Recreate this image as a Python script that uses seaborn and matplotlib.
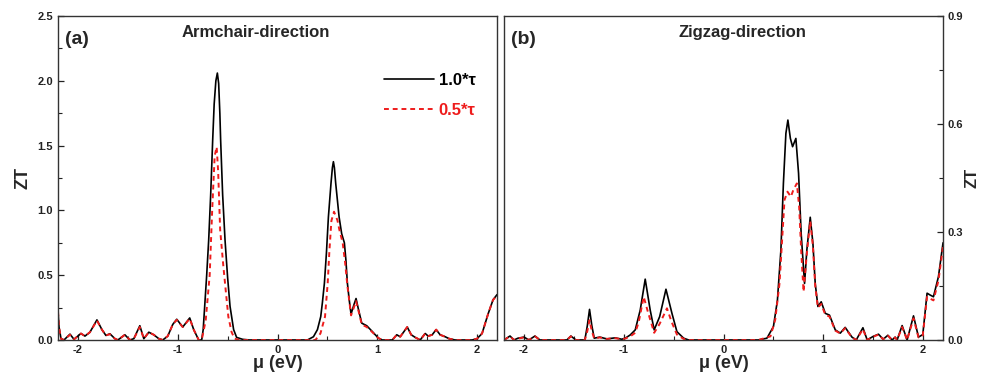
import numpy as np
import pandas as pd
import matplotlib
matplotlib.use('Agg')
import matplotlib.pyplot as plt
from matplotlib.ticker import MultipleLocator
from matplotlib.lines import Line2D
import seaborn as sns

sns.set_theme(style='ticks')
plt.rcParams['font.family'] = ['Liberation Sans', 'DejaVu Sans']
plt.rcParams['font.weight'] = 'bold'
plt.rcParams['axes.labelweight'] = 'bold'
plt.rcParams['axes.unicode_minus'] = False

# ---- (a) armchair, tau = 1.0
arm_mu_10 = [-2.2, -2.19, -2.17, -2.14, -2.08, -2.04, -1.97, -1.93, -1.88, -1.81,
             -1.76, -1.72, -1.68, -1.63, -1.6, -1.53, -1.48, -1.44, -1.38, -1.34,
             -1.29, -1.24, -1.19, -1.15, -1.1, -1.05, -1.01, -0.95, -0.88, -0.84,
             -0.79, -0.76, -0.745, -0.73, -0.71, -0.69, -0.67, -0.65, -0.635, -0.618,
             -0.603, -0.59, -0.578, -0.57, -0.55, -0.526, -0.5, -0.476, -0.44, -0.41,
             -0.35, -0.28, 0.3, 0.36, 0.4, 0.433, 0.45, 0.47, 0.49, 0.51,
             0.536, 0.55, 0.56, 0.57, 0.583, 0.617, 0.643, 0.67, 0.685, 0.70,
             0.72, 0.737, 0.765, 0.787, 0.81, 0.844, 0.894, 0.944, 1.01, 1.05,
             1.15, 1.195, 1.23, 1.30, 1.34, 1.38, 1.43, 1.48, 1.51, 1.55,
             1.59, 1.63, 1.68, 1.72, 1.78, 1.95, 2.0, 2.05, 2.11, 2.16,
             2.2]
arm_zt_10 = [0.22, 0.1, 0.01, 0.0, 0.045, 0.005, 0.05, 0.03, 0.06, 0.155,
             0.08, 0.035, 0.048, 0.01, 0.0, 0.04, 0.0, 0.01, 0.11, 0.01,
             0.06, 0.04, 0.01, 0.0, 0.03, 0.12, 0.16, 0.1, 0.17, 0.08,
             0.0, 0.0, 0.08, 0.26, 0.5, 0.77, 1.12, 1.54, 1.82, 2.0,
             2.06, 1.98, 1.75, 1.54, 1.12, 0.77, 0.48, 0.26, 0.08, 0.02,
             0.005, 0.0, 0.0, 0.025, 0.08, 0.18, 0.29, 0.44, 0.67, 0.95,
             1.21, 1.33, 1.376, 1.33, 1.21, 0.95, 0.82, 0.75, 0.62, 0.44,
             0.3, 0.2, 0.27, 0.32, 0.24, 0.13, 0.11, 0.07, 0.015, 0.0,
             0.0, 0.04, 0.025, 0.1, 0.04, 0.02, 0.0, 0.05, 0.03, 0.04,
             0.08, 0.04, 0.025, 0.01, 0.0, 0.0, 0.01, 0.05, 0.2, 0.31,
             0.35]

# ---- (a) armchair, tau = 0.5
arm_mu_05 = [-2.2, -2.19, -2.17, -2.14, -2.08, -2.04, -1.97, -1.93, -1.88, -1.81,
             -1.76, -1.72, -1.68, -1.63, -1.6, -1.53, -1.48, -1.44, -1.38, -1.34,
             -1.29, -1.24, -1.19, -1.15, -1.1, -1.05, -1.01, -0.95, -0.88, -0.84,
             -0.79, -0.76, -0.72, -0.68, -0.655, -0.63, -0.61, -0.595, -0.575, -0.543,
             -0.515, -0.493, -0.46, -0.43, -0.38, 0.3, 0.38, 0.43, 0.476, 0.503,
             0.52, 0.54, 0.566, 0.6, 0.62, 0.653, 0.677, 0.70, 0.737, 0.765,
             0.787, 0.81, 0.844, 0.894, 0.944, 1.01, 1.05, 1.15, 1.195, 1.23,
             1.30, 1.34, 1.38, 1.43, 1.48, 1.51, 1.55, 1.59, 1.63, 1.68,
             1.72, 1.78, 1.95, 2.0, 2.05, 2.11, 2.16, 2.2]
arm_zt_05 = [0.22, 0.1, 0.01, 0.0, 0.04, 0.005, 0.05, 0.03, 0.06, 0.15,
             0.08, 0.035, 0.045, 0.01, 0.0, 0.04, 0.0, 0.01, 0.1, 0.01,
             0.06, 0.04, 0.01, 0.0, 0.03, 0.12, 0.155, 0.1, 0.165, 0.08,
             0.0, 0.0, 0.15, 0.5, 1.0, 1.42, 1.49, 1.3, 0.85, 0.57,
             0.35, 0.18, 0.06, 0.01, 0.0, 0.0, 0.0, 0.05, 0.18, 0.44,
             0.69, 0.92, 0.99, 0.925, 0.85, 0.75, 0.6, 0.42, 0.19, 0.25,
             0.3, 0.23, 0.12, 0.1, 0.065, 0.015, 0.0, 0.0, 0.04, 0.025,
             0.1, 0.04, 0.02, 0.0, 0.05, 0.03, 0.04, 0.08, 0.04, 0.025,
             0.01, 0.0, 0.0, 0.01, 0.05, 0.2, 0.31, 0.34]

# ---- (b) zigzag, tau = 1.0
zig_mu_10 = [-2.2, -2.14, -2.1, -2.06, -2.0, -1.95, -1.89, -1.84, -1.57, -1.53,
             -1.48, -1.39, -1.365, -1.343, -1.32, -1.296, -1.24, -1.17, -1.085, -1.02,
             -0.985, -0.935, -0.885, -0.835, -0.785, -0.735, -0.695, -0.64, -0.577, -0.517,
             -0.467, -0.4, -0.35, 0.35, 0.435, 0.5, 0.54, 0.575, 0.60, 0.625,
             0.645, 0.67, 0.692, 0.725, 0.752, 0.778, 0.812, 0.835, 0.869, 0.896,
             0.919, 0.946, 0.979, 1.02, 1.062, 1.12, 1.17, 1.219, 1.287, 1.33,
             1.397, 1.44, 1.5, 1.553, 1.6, 1.647, 1.69, 1.72, 1.74, 1.79,
             1.84, 1.904, 1.954, 1.997, 2.04, 2.07, 2.104, 2.154, 2.2]
zig_zt_10 = [0.0, 0.011, 0.0, 0.005, 0.008, 0.0, 0.011, 0.0, 0.0, 0.011,
             0.0, 0.0, 0.04, 0.085, 0.04, 0.005, 0.008, 0.003, 0.006, 0.002,
             0.005, 0.014, 0.028, 0.083, 0.169, 0.083, 0.028, 0.065, 0.141, 0.074,
             0.023, 0.005, 0.0, 0.0, 0.005, 0.037, 0.11, 0.25, 0.435, 0.574,
             0.611, 0.56, 0.537, 0.56, 0.463, 0.296, 0.157, 0.25, 0.341, 0.268,
             0.157, 0.093, 0.106, 0.074, 0.069, 0.028, 0.019, 0.035, 0.008, 0.0,
             0.034, 0.0, 0.01, 0.016, 0.002, 0.013, 0.0, 0.008, 0.0, 0.04,
             0.0, 0.067, 0.008, 0.015, 0.13, 0.125, 0.12, 0.176, 0.27]

# ---- (b) zigzag, tau = 0.5
zig_mu_05 = [-2.2, -2.14, -2.1, -2.06, -2.0, -1.95, -1.89, -1.84, -1.57, -1.53,
             -1.48, -1.39, -1.365, -1.343, -1.32, -1.296, -1.24, -1.17, -1.085, -1.02,
             -0.985, -0.935, -0.885, -0.85, -0.8, -0.76, -0.695, -0.64, -0.567, -0.52,
             -0.467, -0.4, -0.35, 0.35, 0.47, 0.518, 0.561, 0.591, 0.611, 0.641,
             0.675, 0.70, 0.735, 0.758, 0.778, 0.802, 0.835, 0.869, 0.896, 0.919,
             0.946, 0.979, 1.02, 1.062, 1.12, 1.17, 1.219, 1.287, 1.33, 1.397,
             1.44, 1.5, 1.553, 1.6, 1.647, 1.69, 1.72, 1.74, 1.79, 1.84,
             1.904, 1.954, 1.997, 2.04, 2.07, 2.104, 2.154, 2.2]
zig_zt_05 = [0.0, 0.01, 0.0, 0.004, 0.007, 0.0, 0.01, 0.0, 0.0, 0.01,
             0.0, 0.0, 0.025, 0.055, 0.025, 0.004, 0.007, 0.003, 0.005, 0.002,
             0.004, 0.01, 0.02, 0.05, 0.12, 0.08, 0.02, 0.045, 0.088, 0.05,
             0.015, 0.003, 0.0, 0.0, 0.01, 0.056, 0.157, 0.296, 0.389, 0.412,
             0.398, 0.417, 0.435, 0.37, 0.25, 0.134, 0.24, 0.33, 0.26, 0.15,
             0.09, 0.1, 0.07, 0.065, 0.026, 0.018, 0.033, 0.007, 0.0, 0.03,
             0.0, 0.009, 0.015, 0.002, 0.012, 0.0, 0.007, 0.0, 0.036, 0.0,
             0.06, 0.007, 0.013, 0.12, 0.115, 0.11, 0.165, 0.26]

legend_labels = ['1.0*\u03c4', '0.5*\u03c4']
line_colors = ['black', '#ee1c1c']

arm10 = pd.DataFrame({'mu': arm_mu_10, 'ZT': arm_zt_10})
arm05 = pd.DataFrame({'mu': arm_mu_05, 'ZT': arm_zt_05})
zig10 = pd.DataFrame({'mu': zig_mu_10, 'ZT': zig_zt_10})
zig05 = pd.DataFrame({'mu': zig_mu_05, 'ZT': zig_zt_05})

fig = plt.figure(figsize=(9.85, 3.82), dpi=100, facecolor='white')
ax1 = fig.add_axes([0.0589, 0.110, 0.4457, 0.848])
ax2 = fig.add_axes([0.5117, 0.110, 0.4457, 0.848])

for ax, d10, d05 in [(ax1, arm10, arm05), (ax2, zig10, zig05)]:
    sns.lineplot(data=d10, x='mu', y='ZT', ax=ax, color=line_colors[0], lw=1.2, sort=False)
    sns.lineplot(data=d05, x='mu', y='ZT', ax=ax, color=line_colors[1], lw=1.4,
                 linestyle=(0, (2.5, 2)), sort=False)
    ax.set_xlim(-2.2, 2.2)
    ax.xaxis.set_major_locator(MultipleLocator(1))
    ax.xaxis.set_minor_locator(MultipleLocator(0.5))
    ax.tick_params(which='both', direction='in', labelsize=8, colors='#222222')
    ax.tick_params(which='major', length=4, width=0.9)
    ax.tick_params(which='minor', length=3, width=0.8)
    ax.set_xlabel('\u03bc (eV)', fontsize=13, fontweight='bold', labelpad=0)
    for s in ax.spines.values():
        s.set_color('#333333')
        s.set_linewidth(1.0)

ax1.set_ylim(0, 2.5)
ax1.yaxis.set_major_locator(MultipleLocator(0.5))
ax1.yaxis.set_minor_locator(MultipleLocator(0.25))
ax1.set_ylabel('ZT', fontsize=13, fontweight='bold', labelpad=4)
ax1.text(0.015, 0.955, '(a)', transform=ax1.transAxes, fontsize=14, fontweight='bold', va='top')
ax1.text(0.45, 0.95, 'Armchair-direction', transform=ax1.transAxes, fontsize=12,
         fontweight='bold', ha='center', va='center')
handles = [Line2D([], [], color=line_colors[0], lw=1.2),
           Line2D([], [], color=line_colors[1], lw=1.4, linestyle=(0, (2.5, 2)))]
leg = ax1.legend(handles, legend_labels, loc='upper right', bbox_to_anchor=(0.985, 0.87),
                 frameon=False, handlelength=3.0, handletextpad=0.3, labelspacing=0.9,
                 prop={'size': 12, 'weight': 'bold'}, labelcolor=line_colors)

ax2.set_ylim(0, 0.9)
ax2.yaxis.set_major_locator(MultipleLocator(0.3))
ax2.yaxis.set_minor_locator(MultipleLocator(0.15))
ax2.yaxis.tick_right()
ax2.yaxis.set_label_position('right')
ax2.set_ylabel('ZT', fontsize=12, fontweight='bold', labelpad=1, rotation=90)
ax2.text(0.015, 0.955, '(b)', transform=ax2.transAxes, fontsize=14, fontweight='bold', va='top')
ax2.text(0.543, 0.95, 'Zigzag-direction', transform=ax2.transAxes, fontsize=12,
         fontweight='bold', ha='center', va='center')

fig.savefig('out.png', dpi=100, facecolor='white')
